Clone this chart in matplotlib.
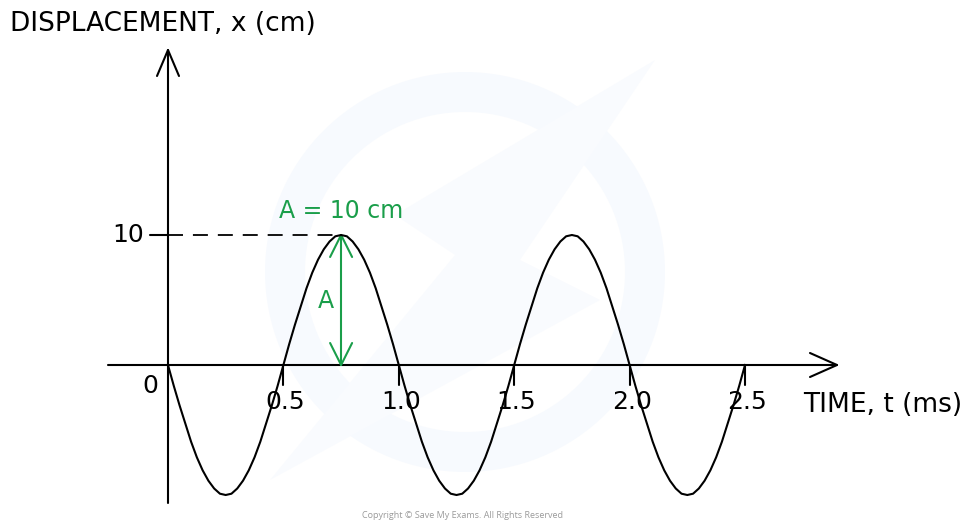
import matplotlib
matplotlib.use("Agg")
import matplotlib.pyplot as plt
from matplotlib.patches import Wedge, Polygon

# ---- data ----
time_ms = [0.000, 0.025, 0.050, 0.075, 0.100, 0.125, 0.150, 0.175, 0.200, 0.225,
           0.250, 0.275, 0.300, 0.325, 0.350, 0.375, 0.400, 0.425, 0.450, 0.475,
           0.500, 0.525, 0.550, 0.575, 0.600, 0.625, 0.650, 0.675, 0.700, 0.725,
           0.750, 0.775, 0.800, 0.825, 0.850, 0.875, 0.900, 0.925, 0.950, 0.975,
           1.000, 1.025, 1.050, 1.075, 1.100, 1.125, 1.150, 1.175, 1.200, 1.225,
           1.250, 1.275, 1.300, 1.325, 1.350, 1.375, 1.400, 1.425, 1.450, 1.475,
           1.500, 1.525, 1.550, 1.575, 1.600, 1.625, 1.650, 1.675, 1.700, 1.725,
           1.750, 1.775, 1.800, 1.825, 1.850, 1.875, 1.900, 1.925, 1.950, 1.975,
           2.000, 2.025, 2.050, 2.075, 2.100, 2.125, 2.150, 2.175, 2.200, 2.225,
           2.250, 2.275, 2.300, 2.325, 2.350, 2.375, 2.400, 2.425, 2.450, 2.475,
           2.500]
displacement_cm = [0.0, -1.6, -3.1, -4.5, -5.9, -7.1, -8.1, -8.9, -9.5, -9.9,
                   -10.0, -9.9, -9.5, -8.9, -8.1, -7.1, -5.9, -4.5, -3.1, -1.6,
                   0.0, 1.6, 3.1, 4.5, 5.9, 7.1, 8.1, 8.9, 9.5, 9.9,
                   10.0, 9.9, 9.5, 8.9, 8.1, 7.1, 5.9, 4.5, 3.1, 1.6,
                   0.0, -1.6, -3.1, -4.5, -5.9, -7.1, -8.1, -8.9, -9.5, -9.9,
                   -10.0, -9.9, -9.5, -8.9, -8.1, -7.1, -5.9, -4.5, -3.1, -1.6,
                   0.0, 1.6, 3.1, 4.5, 5.9, 7.1, 8.1, 8.9, 9.5, 9.9,
                   10.0, 9.9, 9.5, 8.9, 8.1, 7.1, 5.9, 4.5, 3.1, 1.6,
                   0.0, -1.6, -3.1, -4.5, -5.9, -7.1, -8.1, -8.9, -9.5, -9.9,
                   -10.0, -9.9, -9.5, -8.9, -8.1, -7.1, -5.9, -4.5, -3.1, -1.6,
                   0.0]
x_ticks = [0.5, 1.0, 1.5, 2.0, 2.5]
x_tick_labels = ["0.5", "1.0", "1.5", "2.0", "2.5"]
amplitude = 10
amp_time = 0.75
x_label = "TIME, t (ms)"
y_label = "DISPLACEMENT, x (cm)"
amp_label = "A = 10 cm"

# ---- layout (pixels) ----
W, H = 970, 521
X0, Y0 = 168, 365          # origin pixel
SX, SY = 230.8, 13.0       # px per ms, px per cm
FONT = "DejaVu Sans"
FS_LAB = 19
FS_NUM = 18
FS_GREEN = 17
GREEN = "#1a9e4a"

fig = plt.figure(figsize=(W / 100, H / 100), dpi=100)
bg = fig.add_axes([0, 0, 1, 1])
bg.set_xlim(0, W)
bg.set_ylim(H, 0)
bg.axis("off")

ax = fig.add_axes([0, 0, 1, 1])
ax.set_xlim(-X0 / SX, (W - X0) / SX)
ax.set_ylim(-(H - Y0) / SY, Y0 / SY)
ax.axis("off")
ax.patch.set_alpha(0)

def px(t):
    return X0 + t * SX

def py(v):
    return Y0 - v * SY

# faint watermark
bg.add_patch(Wedge((465, 272), 200, 0, 360, width=40, color="#f7fafe", lw=0))
bg.add_patch(Polygon([(655, 60), (395, 215), (455, 255), (270, 480),
                      (600, 300), (520, 260), (655, 60)],
                     closed=True, color="#f9fbfe", lw=0))

k = dict(color="black", lw=1.5, solid_capstyle="round")
# axes lines
bg.plot([X0, X0], [503, 50], **k)
bg.plot([108, 837], [Y0, Y0], **k)
# arrow heads (open)
bg.plot([157, X0, 179], [76, 50, 76], **k)
bg.plot([810, 837, 810], [353, Y0, 377], **k)

# x ticks and labels
for t, lab in zip(x_ticks, x_tick_labels):
    bg.plot([px(t), px(t)], [Y0, Y0 + 20], **k)
    bg.text(px(t) + 2, 402, lab, ha="center", va="center",
            fontsize=FS_NUM, family=FONT)
bg.text(150, 386, "0", ha="center", va="center", fontsize=FS_NUM, family=FONT)

# y tick at amplitude
bg.plot([150, X0], [py(amplitude), py(amplitude)], **k)
bg.text(144, py(amplitude), str(amplitude), ha="right", va="center",
        fontsize=FS_NUM, family=FONT)
bg.plot([X0, px(amp_time)], [py(amplitude), py(amplitude)],
        color="black", lw=1.3, dashes=(8.3, 5.5))

# axis labels
bg.text(10, 24, y_label, ha="left", va="center", fontsize=FS_LAB, family=FONT)
bg.text(803, 405, x_label, ha="left", va="center", fontsize=FS_LAB, family=FONT)

# the curve
ax.plot(time_ms, displacement_cm, color="black", lw=1.5)

# amplitude annotation
g = dict(color=GREEN, lw=1.5, solid_capstyle="round")
xa = px(amp_time)
bg.plot([xa, xa], [py(amplitude), Y0], **g)
bg.plot([xa - 11, xa, xa + 11], [py(amplitude) + 22, py(amplitude), py(amplitude) + 22], **g)
bg.plot([xa - 11, xa, xa + 11], [Y0 - 22, Y0, Y0 - 22], **g)
bg.text(xa, 211, amp_label, ha="center", va="center", fontsize=FS_GREEN,
        family=FONT, color=GREEN)
bg.text(326, 301, "A", ha="center", va="center", fontsize=FS_GREEN,
        family=FONT, color=GREEN)

bg.text(463, 515, "Copyright \u00a9 Save My Exams. All Rights Reserved",
        ha="center", va="center", fontsize=6.5, family="Open Sans",
        color="#9a9a9a")

fig.savefig("out.png", dpi=100)
